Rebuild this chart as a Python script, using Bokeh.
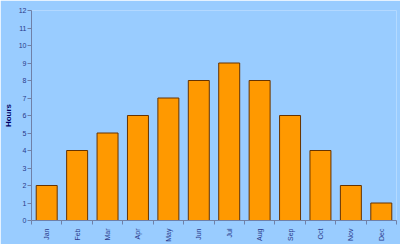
from bokeh.plotting import figure
from bokeh.models import Range1d, FixedTicker, ColumnDataSource
from bokeh.embed import file_html
from bokeh.resources import INLINE
import math

months = ["Jan", "Feb", "Mar", "Apr", "May", "Jun", "Jul", "Aug", "Sep", "Oct", "Nov", "Dec"]
hours = [2, 4, 5, 6, 7, 8, 9, 8, 6, 4, 2, 1]

xpos = [i + 0.5 for i in range(len(months))]
src = ColumnDataSource(dict(x=xpos, top=hours))

BG = "#99CCFF"
p = figure(width=400, height=244, output_backend="svg", toolbar_location=None,
           x_range=Range1d(0, 12), y_range=Range1d(0, 12),
           min_border_left=31, min_border_right=4, min_border_top=10, min_border_bottom=24,
           background_fill_color=BG, border_fill_color=BG)
p.outline_line_color = None
p.grid.visible = False

p.vbar(x="x", top="top", width=0.69, bottom=0, source=src,
       fill_color="#FF9900", line_color="#663300", line_width=1)

TXT = "#2A3A8A"
AX = "#6F80A8"
p.xaxis.ticker = FixedTicker(ticks=xpos, minor_ticks=list(range(13)))
p.xaxis.major_label_overrides = {x: m for x, m in zip(xpos, months)}
p.xaxis.major_label_orientation = math.pi / 2
p.xaxis.major_tick_out = 0
p.xaxis.major_tick_in = 0
p.xaxis.minor_tick_out = 4
p.xaxis.minor_tick_in = 0
p.xaxis.minor_tick_line_color = AX
p.xaxis.axis_line_color = AX
p.xaxis.major_label_text_font = "Liberation Sans"
p.xaxis.major_label_text_font_size = "7px"
p.xaxis.major_label_text_color = TXT
p.xaxis.major_label_standoff = 4

p.yaxis.ticker = FixedTicker(ticks=list(range(13)), minor_ticks=[])
p.yaxis.major_tick_out = 4
p.yaxis.major_tick_in = 0
p.yaxis.major_tick_line_color = AX
p.yaxis.axis_line_color = AX
p.yaxis.major_label_text_font = "Liberation Sans"
p.yaxis.major_label_text_font_size = "7px"
p.yaxis.major_label_text_color = TXT
p.yaxis.major_label_standoff = 1
p.yaxis.axis_label = "Hours"
p.yaxis.axis_label_text_font = "Liberation Sans"
p.yaxis.axis_label_text_font_size = "8px"
p.yaxis.axis_label_text_font_style = "bold"
p.yaxis.axis_label_text_color = "#000066"
p.yaxis.axis_label_standoff = 3

open("out.html", "w").write(file_html(p, INLINE))
